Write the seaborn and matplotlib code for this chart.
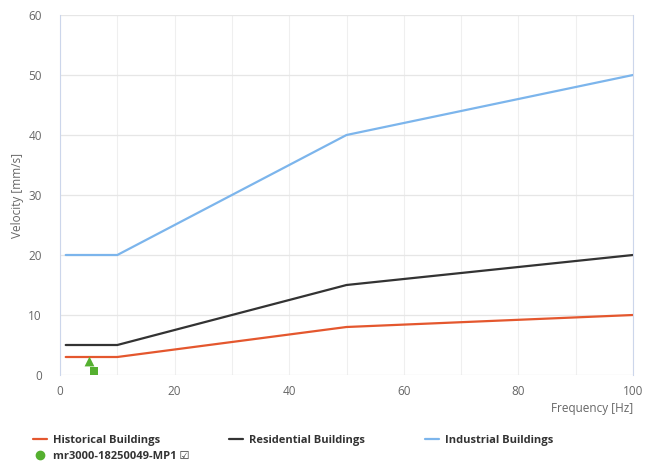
import matplotlib
matplotlib.use("Agg")
import matplotlib.pyplot as plt
import seaborn as sns
import pandas as pd
from matplotlib.lines import Line2D

# limit curves (frequency Hz -> velocity mm/s)
freq = [1, 10, 50, 100]
historical = [3, 3, 8, 10]
residential = [5, 5, 15, 20]
industrial = [20, 20, 40, 50]

# measured points of mr3000-18250049-MP1
meas_freq = [5, 6]
meas_vel = [2.3, 0.6]
meas_marker = ["^", "s"]
meas_size = [50, 40]

series_names = ["Historical Buildings", "Residential Buildings", "Industrial Buildings"]
series_colors = ["#e4572e", "#333333", "#7cb5ec"]
green = "#55b030"

rows = []
for name, vals in zip(series_names, [historical, residential, industrial]):
    for f, v in zip(freq, vals):
        rows.append({"freq": f, "vel": v, "series": name})
df = pd.DataFrame(rows)

sns.set_style("white")
plt.rcParams["font.family"] = ["Open Sans", "DejaVu Sans"]

fig = plt.figure(figsize=(6.46, 4.65), dpi=100)
ax = fig.add_axes([60 / 646, 1 - 375 / 465, 573 / 646, 360 / 465])

sns.lineplot(data=df, x="freq", y="vel", hue="series", hue_order=series_names,
             palette=series_colors, linewidth=1.6, legend=False, ax=ax)

for f, v, m, s in zip(meas_freq, meas_vel, meas_marker, meas_size):
    ax.scatter([f], [v], marker=m, s=s, color=green, zorder=5, linewidths=0)

ax.set_xlim(0, 100)
ax.set_ylim(0, 60)
ax.set_xticks(range(0, 101, 20))
ax.set_xticks(range(0, 101, 10), minor=True)
ax.set_yticks(range(0, 61, 10))
ax.grid(True, which="major", axis="y", color="#e6e6e6", linewidth=0.9)
ax.grid(True, which="both", axis="x", color="#efefef", linewidth=0.8)

for side in ["top", "bottom"]:
    ax.spines[side].set_visible(False)
ax.spines["left"].set_color("#ccd6eb")
ax.spines["right"].set_color("#ccd6eb")

ax.tick_params(axis="both", which="both", length=0, labelsize=8.5, labelcolor="#666666")
ax.tick_params(axis="x", pad=7)
ax.tick_params(axis="y", pad=13)

ax.set_xlabel("")
ax.set_ylabel("")
fig.text(18 / 646, 1 - 195 / 465, "Velocity [mm/s]", rotation=90, ha="center", va="center",
         fontsize=8.5, color="#666666")
fig.text(633 / 646, 1 - 408 / 465, "Frequency [Hz]", ha="right", va="center",
         fontsize=8.5, color="#666666")

# legend, three columns placed by hand
leg_font = {"weight": "bold", "size": 8}
h_hist = Line2D([], [], color=series_colors[0], linewidth=1.6)
h_res = Line2D([], [], color=series_colors[1], linewidth=1.6)
h_ind = Line2D([], [], color=series_colors[2], linewidth=1.6)
h_meas = Line2D([], [], color=green, marker="o", linestyle="", markersize=6)

common = dict(loc="upper left", frameon=False, prop=leg_font, handlelength=1.3,
              handletextpad=0.5, labelspacing=0.45, borderaxespad=0, borderpad=0,
              labelcolor="#333333")
top = 1 - 435 / 465
fig.legend([h_hist, h_meas], ["Historical Buildings", "mr3000-18250049-MP1 \u2611"],
           bbox_to_anchor=(33 / 646, top), **common)
fig.legend([h_res], ["Residential Buildings"], bbox_to_anchor=(229 / 646, top), **common)
fig.legend([h_ind], ["Industrial Buildings"], bbox_to_anchor=(425 / 646, top), **common)

fig.savefig("out.png", dpi=100)
